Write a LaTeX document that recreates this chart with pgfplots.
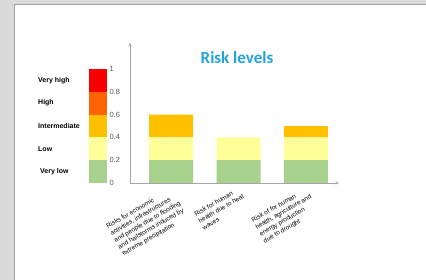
\documentclass[border=0pt]{standalone}
\usepackage{pgfplots}
\pgfplotsset{compat=1.18}
\usepackage{fontspec}
\setmainfont{Liberation Sans}
\newfontfamily\titlefont{Carlito}
\definecolor{vlow}{HTML}{A9D18E}
\definecolor{low}{HTML}{FFFF99}
\definecolor{inter}{HTML}{FFC000}
\definecolor{high}{HTML}{FF6200}
\definecolor{vhigh}{HTML}{F80000}
\definecolor{titleblue}{HTML}{22A3DA}
\definecolor{bggray}{HTML}{DADADA}
\definecolor{edgegray}{HTML}{9C9C9C}
\definecolor{tickgray}{HTML}{595959}
\tikzset{lvl/.style={anchor=west, inner sep=0pt, xshift=-51pt, font=\fontsize{7}{8}\selectfont\bfseries}}
\begin{document}
\begin{tikzpicture}[x=1pt,y=1pt]
\useasboundingbox (0,0) rectangle (426,280);
\fill[bggray] (0,0) rectangle (426,280);
\fill[white] (14,0) rectangle (426,275);
\draw[edgegray,line width=1.3pt] (14.5,0) -- (14.5,275.2) -- (426,275.2);
% colour scale
\begin{axis}[
  at={(89pt,97pt)}, anchor=south west,
  scale only axis, width=18pt, height=114pt,
  xmin=-0.5, xmax=0.5, ymin=0, ymax=1,
  axis line style={draw=none},
  major tick length=0pt,
  xtick=\empty,
  ytick={0,0.2,0.4,0.6,0.8,1},
  yticklabels={0,0.2,0.4,0.6,0.8,1},
  yticklabel pos=right,
  yticklabel style={font=\fontsize{7.5}{8}\selectfont, text=tickgray, anchor=west, xshift=-1pt},
  ybar stacked, bar width=18pt,
  clip=false,
]
\addplot[fill=vlow, draw=none] coordinates {(0,0.2)};
\addplot[fill=low, draw=none] coordinates {(0,0.2)};
\addplot[fill=inter, draw=none] coordinates {(0,0.2)};
\addplot[fill=high, draw=none] coordinates {(0,0.2)};
\addplot[fill=vhigh, draw=none] coordinates {(0,0.2)};
\node[lvl] at (axis cs:-0.5,0.9) {Very high};
\node[lvl] at (axis cs:-0.5,0.7) {High};
\node[lvl] at (axis cs:-0.5,0.5) {Intermediate};
\node[lvl] at (axis cs:-0.5,0.3) {Low};
\node[lvl, xshift=2pt] at (axis cs:-0.5,0.1) {Very low};
\end{axis}
% main chart
\begin{axis}[
  at={(130pt,97pt)}, anchor=south west,
  scale only axis, width=209pt, height=140pt,
  xmin=-0.61, xmax=2.49, ymin=0, ymax=1.23,
  axis lines=left,
  axis line style={draw=gray!70, line width=0.6pt},
  ytick=\empty,
  xtick={0,1,2},
  major tick length=0pt,
  xticklabels={{Risks for economic\\activities, infrastructures\\and people due to flooding\\and hailstorms induced by\\extreme precipitation},
               {Risk for human\\health due to heat\\waves},
               {Risk of for human\\health, agriculture and\\energy production\\due to drought}},
  xticklabel style={rotate=30, anchor=north east, align=left,
     font=\fontsize{6.4}{7.9}\selectfont, inner sep=1pt, xshift=-1pt, yshift=-2pt},
  ybar stacked, bar width=44pt,
  clip=false,
]
\addplot[fill=vlow, draw=none] coordinates {(0,0.2) (1,0.2) (2,0.2)};
\addplot[fill=low, draw=none] coordinates {(0,0.2) (1,0.2) (2,0.2)};
\addplot[fill=inter, draw=none] coordinates {(0,0.2) (1,0) (2,0.1)};
\end{axis}
\node[font=\titlefont\bfseries\fontsize{17}{20}\selectfont, text=titleblue] at (237,222) {Risk levels};
\end{tikzpicture}
\end{document}
